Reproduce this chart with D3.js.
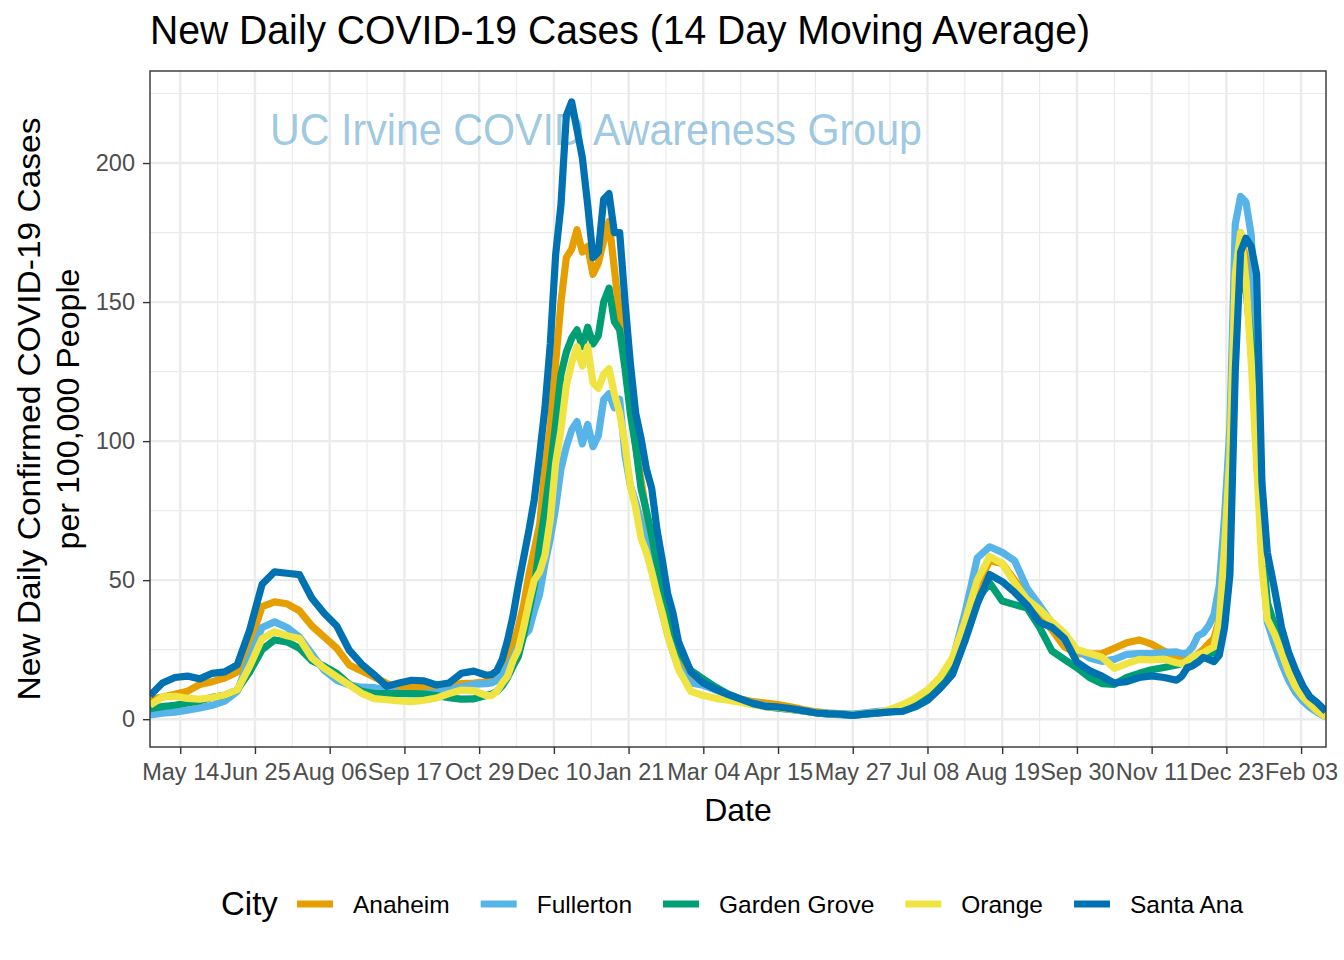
<!DOCTYPE html>
<html><head><meta charset="utf-8">
<script src="https://cdn.jsdelivr.net/npm/d3@7"></script>
<style>body{margin:0;background:#fff}svg{display:block;font-family:"Liberation Sans",Arial,Helvetica,sans-serif}</style>
</head><body><svg id="c" width="1344" height="960"></svg>
<script>
// ---------- DATA ----------
const dates = [
"2020-04-27","2020-05-04","2020-05-11","2020-05-18","2020-05-25","2020-06-01","2020-06-08","2020-06-15","2020-06-22","2020-06-29",
"2020-07-06","2020-07-13","2020-07-20","2020-07-27","2020-08-03","2020-08-10","2020-08-17","2020-08-24","2020-08-31","2020-09-07",
"2020-09-14","2020-09-21","2020-09-28","2020-10-05","2020-10-12","2020-10-19","2020-10-26","2020-11-02",
"2020-11-05","2020-11-08","2020-11-11","2020-11-14","2020-11-17","2020-11-20","2020-11-23","2020-11-26","2020-11-29","2020-12-02",
"2020-12-05","2020-12-08","2020-12-11","2020-12-14","2020-12-17","2020-12-20","2020-12-23","2020-12-26","2020-12-29","2021-01-01",
"2021-01-04","2021-01-07","2021-01-10","2021-01-13","2021-01-16","2021-01-19","2021-01-22","2021-01-25","2021-01-28","2021-01-31",
"2021-02-03","2021-02-06","2021-02-09","2021-02-12","2021-02-15","2021-02-18",
"2021-02-25","2021-03-04","2021-03-11","2021-03-18","2021-03-25","2021-04-01","2021-04-08","2021-04-15","2021-04-22","2021-04-29",
"2021-05-06","2021-05-13","2021-05-20","2021-05-27","2021-06-03","2021-06-10","2021-06-17","2021-06-24","2021-07-01","2021-07-08",
"2021-07-15","2021-07-22","2021-07-29","2021-08-05","2021-08-12","2021-08-19","2021-08-26","2021-09-02","2021-09-09","2021-09-16",
"2021-09-23","2021-09-30","2021-10-07","2021-10-14","2021-10-21","2021-10-28","2021-11-04","2021-11-11","2021-11-18","2021-11-25",
"2021-11-28","2021-12-01","2021-12-04","2021-12-07","2021-12-10","2021-12-13","2021-12-16","2021-12-19","2021-12-22","2021-12-25",
"2021-12-28","2021-12-31","2022-01-03","2022-01-06","2022-01-09","2022-01-12","2022-01-15","2022-01-19","2022-01-23","2022-01-27",
"2022-01-31","2022-02-04","2022-02-08","2022-02-12","2022-02-17"
];

const anaheim = [
7,8,9,10,12.5,13.5,14.8,17,27,40.5,42.2,41.5,39,33.5,29.5,25.5,19.5,17.3,15.2,12.9,11.3,11.5,11.5,11.5,12,12.8,13,13.4,
14,16,18.5,22,26.5,33,41,52,61,70,90,105,128,150,166,169,176,168,170,160,164,172,179,162,145,128,112,98,86,74,64,55,45,36,28,21,
15,12.5,10.5,8.8,7.3,6.3,5.8,5.3,4.5,3.5,2.7,2.2,1.9,1.6,2,2.4,3,4.5,6.5,9.5,14,21,34,48,57,56,50,44,38,32,26,23.5,23.5,23.6,25.5,27.5,28.5,27,24.5,22.5,
22,21.5,22,23.5,25,27.2,29,36,65,100,160,175,165,135,95,60,40,32,25,18,12,8.5,5.5,3.2,1
];
const fullerton = [
1.5,2.2,2.5,3.2,4,5,6.5,10,22,33,35,33,29.5,23.5,17.5,14,12.3,11.5,11.4,10.2,9.4,9.2,9.3,9.6,10.5,11.6,12.6,12.8,
13,14,16,19,22,26,30,32,39,45,56,65,76,90,98,104,107,99,106,98,102,115,117,112,115,95,84,78,71,63,54,46,38,30.5,24,19,
13,12.2,10.5,8.8,7,5.8,4.8,4.2,3.6,3,2.4,2.2,2,1.8,2.3,2.8,3,4.5,6.5,9.5,14,21,38,58,62,60,57,47,41,34.5,28.5,25,22,20.8,21.5,23.3,23.6,23.6,24,24.2,
23.6,23.8,26,30,31,33.5,37.5,48,73,105,178,188,186,174,125,62,35,27,20,14,9.5,6.5,4.2,2.5,0.8
];
const gardenGrove = [
3.8,4.5,5,5.8,6.6,7.9,8.6,10.5,17,25,28.5,27.8,25.5,21,19,16.5,12.5,10,9.2,9.2,9.2,9.2,9,8.5,7.7,7.2,7.3,8.5,
9,10,12,15,19,22.5,30,39,48,62,75,90,106,124,132,137,140,134,141,135,138,150,155,143,140,126,110,98,83,75,66,56,48,39,32,25,
17.5,14.5,11.5,9,7.2,5.6,4.5,4,3.5,3,2.3,1.8,1.6,1.4,1.8,2.2,2.6,3.2,5,8,13,19,31,43,49,42.5,41.2,40,33,24.5,21.5,18.5,15,12.8,12.5,15,16.5,17.8,18.6,19.5,
20,21,21.5,22,22.5,23.3,24,30,55,90,145,158,155,135,100,65,42,34,26,19,13,9,6,3.5,1.2
];
const orange = [
5,8,8.2,7.5,7.2,7.8,8.7,10.5,19,29,31.5,30,29,22,18.3,15.3,12.3,9.3,7.4,7,6.6,6.3,6.8,7.6,9.2,10.5,10.3,8.5,
8.5,10,13,15.5,21,25,33,42,50,53,59,72,92,104,120,128,134,127,134,121,119,124,126,117,110,99,84,76,65,60,53,45,38,30,24,18,
10,8.5,7.5,6.8,6,5.2,4.5,4.2,3.6,3,2.4,2,1.8,1.5,2,2.4,3.5,5.2,7.5,10.5,15,22,35,50,58.5,56,49,43,39.5,35,31,25,23.7,22.3,18.3,20,21.5,21.3,21.6,20.3,
20,21,22.5,23.2,23.8,25,26,35,62,95,160,175,158,128,92,55,36,30.8,24,17,11.5,8,5.5,3,0.8
];
const santaAna = [
8.5,13,15,15.5,14.5,16.5,17,19.5,32,48.5,53,52.5,52,43.5,38,33.5,24.8,19.8,16,11.8,13,14,13.8,12.3,13,16.5,17.3,15.8,
16,17.5,21.5,28.5,37,48,58,68,79,95,112,135,167,185,217,222,212,202,185,166,168,187,189,175,175,150,128,110,101,90,83,68,57,45,38,28,
17,13,10.8,8.8,7.2,5.6,4.6,4.4,3.8,3.1,2.3,2,1.8,1.4,1.9,2.3,2.6,2.8,4.4,6.8,11,16,28,41.5,52,49.5,45.6,41,34.8,33,29,20.5,17.5,15.5,13,13.5,15,15.6,15,14,
15.5,18.5,19.2,20.5,22.2,21.5,20.7,23,33,52,125,168,173,170,160,85,60,47,33,24,17.5,12,8,6,2.8
];

const cities = ["Anaheim","Fullerton","Garden Grove","Orange","Santa Ana"];
const cityColors = ["#E69F00","#56B4E9","#009E73","#F0E442","#0072B2"];
const cityValues = [anaheim, fullerton, gardenGrove, orange, santaAna];

const xTickDates = ["2020-05-14","2020-06-25","2020-08-06","2020-09-17","2020-10-29","2020-12-10","2021-01-21","2021-03-04",
  "2021-04-15","2021-05-27","2021-07-08","2021-08-19","2021-09-30","2021-11-11","2021-12-23","2022-02-03"];
const xTickLabels = ["May 14","Jun 25","Aug 06","Sep 17","Oct 29","Dec 10","Jan 21","Mar 04",
  "Apr 15","May 27","Jul 08","Aug 19","Sep 30","Nov 11","Dec 23","Feb 03"];
const yTicks = [0,50,100,150,200];
const yMinor = [25,75,125,175,225];

const titleText = "New Daily COVID-19 Cases (14 Day Moving Average)";
const watermarkText = "UC Irvine COVID Awareness Group";
const yTitle = ["New Daily Confirmed COVID-19 Cases","per 100,000 People"];
const xTitle = "Date";
const legendTitle = "City";

// ---------- LAYOUT ----------
const W = 1344, H = 960;
const L = 150, R = 1326, T = 71, B = 747;
const parse = d3.utcParse("%Y-%m-%d");

const x = d3.scaleUtc().domain([parse("2020-04-27"), parse("2022-02-17")]).range([L, R]);
const y = d3.scaleLinear().domain([-10, 233.1]).range([B, T]);

const svg = d3.select("#c");
svg.append("rect").attr("width", W).attr("height", H).attr("fill", "#fff");

const defs = svg.append("defs");
defs.append("clipPath").attr("id", "panel").append("rect")
  .attr("x", L).attr("y", T).attr("width", R - L).attr("height", B - T);

// grid
const grid = svg.append("g");
const tickDates = xTickDates.map(parse);
const minorDates = tickDates.slice(0, -1).map(d => d3.utcDay.offset(d, 21));
grid.selectAll(".ymin").data(yMinor).join("line")
  .attr("x1", L).attr("x2", R).attr("y1", d => y(d)).attr("y2", d => y(d))
  .attr("stroke", "#EBEBEB").attr("stroke-width", 1.2);
grid.selectAll(".xmin").data(minorDates).join("line")
  .attr("y1", T).attr("y2", B).attr("x1", d => x(d)).attr("x2", d => x(d))
  .attr("stroke", "#EBEBEB").attr("stroke-width", 1.2);
grid.selectAll(".ymaj").data(yTicks).join("line")
  .attr("x1", L).attr("x2", R).attr("y1", d => y(d)).attr("y2", d => y(d))
  .attr("stroke", "#EBEBEB").attr("stroke-width", 2.4);
grid.selectAll(".xmaj").data(tickDates).join("line")
  .attr("y1", T).attr("y2", B).attr("x1", d => x(d)).attr("x2", d => x(d))
  .attr("stroke", "#EBEBEB").attr("stroke-width", 2.4);

// watermark
svg.append("text").attr("x", 270).attr("y", 145)
  .attr("font-size", 44).attr("fill", "#0072B2").attr("fill-opacity", 0.4)
  .attr("textLength", 652).attr("lengthAdjust", "spacingAndGlyphs")
  .text(watermarkText);

// lines
const series = cities.map((c, i) => ({
  city: c, color: cityColors[i],
  values: dates.map((d, j) => ({ date: parse(d), v: cityValues[i][j] }))
}));
const line = d3.line().x(d => x(d.date)).y(d => y(d.v));
svg.append("g").attr("clip-path", "url(#panel)")
  .selectAll("path").data(series).join("path")
  .attr("d", d => line(d.values))
  .attr("fill", "none").attr("stroke", d => d.color)
  .attr("stroke-width", 7.2).attr("stroke-linejoin", "round").attr("stroke-linecap", "butt");

// border
svg.append("rect").attr("x", L).attr("y", T).attr("width", R - L).attr("height", B - T)
  .attr("fill", "none").attr("stroke", "#333333").attr("stroke-width", 1.4);

// axes
const xAxis = d3.axisBottom(x).tickValues(tickDates).tickFormat((d, i) => xTickLabels[i])
  .tickSize(7).tickPadding(9);
const gx = svg.append("g").attr("transform", `translate(0,${B})`).call(xAxis);
const yAxis = d3.axisLeft(y).tickValues(yTicks).tickFormat(d3.format("d")).tickSize(7).tickPadding(8);
const gy = svg.append("g").attr("transform", `translate(${L},0)`).call(yAxis);
[gx, gy].forEach(g => {
  g.select(".domain").remove();
  g.selectAll(".tick line").attr("stroke", "#333333").attr("stroke-width", 1.4);
  g.selectAll(".tick text").attr("fill", "#4D4D4D").attr("font-size", 23.5)
    .attr("font-family", '"Liberation Sans",Arial,sans-serif');
});

// title
svg.append("text").attr("x", 150).attr("y", 44).attr("font-size", 40).attr("fill", "#000")
  .attr("textLength", 940).attr("lengthAdjust", "spacingAndGlyphs").text(titleText);

// axis titles
svg.append("text").attr("x", (L + R) / 2).attr("y", 821).attr("text-anchor", "middle")
  .attr("font-size", 32).attr("fill", "#000").text(xTitle);
const ycx = [40, 79], ylen = [583, 281];
yTitle.forEach((t, i) => {
  svg.append("text").attr("transform", `translate(${ycx[i]},${(T + B) / 2}) rotate(-90)`)
    .attr("text-anchor", "middle").attr("font-size", 32).attr("fill", "#000")
    .attr("textLength", ylen[i]).attr("lengthAdjust", "spacingAndGlyphs").text(t);
});

// legend
const lg = svg.append("g");
lg.append("text").attr("x", 221).attr("y", 915).attr("font-size", 33).attr("fill", "#000").text(legendTitle);
let kx = 297;
series.forEach(s => {
  lg.append("line").attr("x1", kx).attr("x2", kx + 36).attr("y1", 904).attr("y2", 904)
    .attr("stroke", s.color).attr("stroke-width", 7.2);
  const t = lg.append("text").attr("x", kx + 56).attr("y", 912.5).attr("font-size", 24.5)
    .attr("fill", "#000").text(s.city);
  kx = kx + 56 + t.node().getComputedTextLength() + 31;
});
</script>
</body></html>
